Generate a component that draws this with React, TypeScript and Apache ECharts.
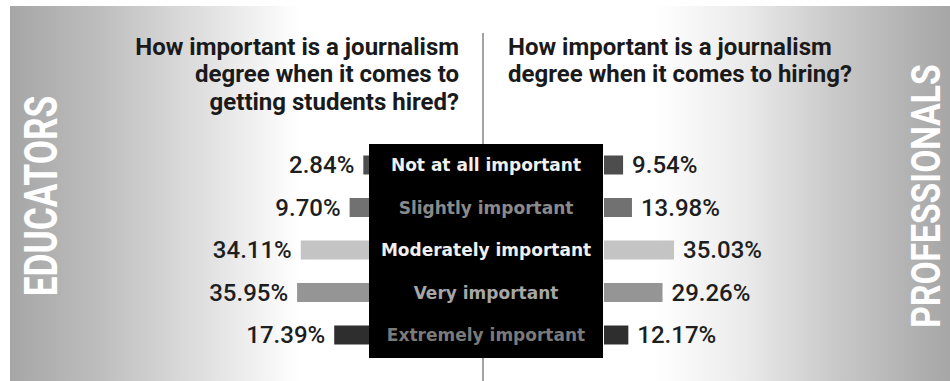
import React, { useEffect, useRef } from "react";
import * as echarts from "echarts";

const categories = [
  "Not at all important",
  "Slightly important",
  "Moderately important",
  "Very important",
  "Extremely important",
];
const educators = [2.84, 9.7, 34.11, 35.95, 17.39];
const professionals = [9.54, 13.98, 35.03, 29.26, 12.17];
const barColors = ["#4d4d4d", "#717171", "#c4c4c4", "#959595", "#2e2e2e"];
const categoryLabelColors = ["#f0f0f0", "#8a8a8a", "#f0f0f0", "#a6a6a6", "#7a7a7a"];
const leftTitle = [
  "How important is a journalism",
  "degree when it comes to",
  "getting students hired?",
];
const rightTitle = ["How important is a journalism", "degree when it comes to hiring?"];
const leftSide = "EDUCATORS";
const rightSide = "PROFESSIONALS";

export default function App() {
  const ref = useRef<HTMLDivElement>(null);
  useEffect(() => {
    if (!ref.current) return;
    const chart = echarts.init(ref.current, undefined, { renderer: "svg" });
    const gridTop = 143.75;
    const gridH = 212.5;
    const mk = (vals: number[]) =>
      vals.map((v, i) => ({ value: v, itemStyle: { color: barColors[i] } }));
    const pctFmt = (p: any) => Number(p.value).toFixed(2) + "%";
    const pctLabel = {
      show: true,
      formatter: pctFmt,
      fontFamily: "Roboto",
      fontWeight: 500,
      fontSize: 24,
      color: "#1e1e1e",
      distance: 9,
    };
    chart.setOption({
      animation: false,
      backgroundColor: "#ffffff",
      grid: [
        { left: 269, width: 100, top: gridTop, height: gridH },
        { left: 604, width: 100, top: gridTop, height: gridH },
      ],
      xAxis: [
        { gridIndex: 0, type: "value", min: 0, max: 50, inverse: true, show: false },
        { gridIndex: 1, type: "value", min: 0, max: 50, show: false },
      ],
      yAxis: [
        { gridIndex: 0, type: "category", data: categories, inverse: true, show: false },
        {
          gridIndex: 1,
          type: "category",
          data: categories,
          inverse: true,
          z: 20,
          axisLine: { show: false },
          axisTick: { show: false },
          splitLine: { show: false },
          axisLabel: {
            margin: 118,
            align: "center",
            fontFamily: "DejaVu Sans",
            fontWeight: "bold",
            fontSize: 17,
            color: (val: string) => categoryLabelColors[categories.indexOf(val)],
          },
        },
      ],
      series: [
        {
          type: "bar",
          xAxisIndex: 0,
          yAxisIndex: 0,
          barWidth: 19,
          data: mk(educators),
          label: { ...pctLabel, position: "left" },
        },
        {
          type: "bar",
          xAxisIndex: 1,
          yAxisIndex: 1,
          barWidth: 19,
          data: mk(professionals),
          label: { ...pctLabel, position: "right" },
        },
      ],
      graphic: [
        {
          type: "rect",
          z: -20,
          shape: { x: 10, y: 6, width: 290, height: 375 },
          style: {
            fill: new echarts.graphic.LinearGradient(0, 0, 1, 0, [
              { offset: 0, color: "#a6a6a6" },
              { offset: 0.3, color: "#bdbdbd" },
              { offset: 0.65, color: "#dedede" },
              { offset: 1, color: "#ffffff" },
            ]),
          },
        },
        {
          type: "rect",
          z: -20,
          shape: { x: 300, y: 6, width: 355, height: 375 },
          style: { fill: "#ffffff" },
        },
        {
          type: "rect",
          z: -20,
          shape: { x: 655, y: 6, width: 295, height: 375 },
          style: {
            fill: new echarts.graphic.LinearGradient(0, 0, 1, 0, [
              { offset: 0, color: "#ffffff" },
              { offset: 0.3, color: "#ebebeb" },
              { offset: 0.6, color: "#cacaca" },
              { offset: 0.8, color: "#b8b8b8" },
              { offset: 1, color: "#a6a6a6" },
            ]),
          },
        },
        {
          type: "line",
          z: -15,
          shape: { x1: 483, y1: 33, x2: 483, y2: 381 },
          style: { stroke: "#858585", lineWidth: 1.5 },
        },
        {
          type: "rect",
          z: -10,
          shape: { x: 369, y: 144, width: 234, height: 214 },
          style: { fill: "#000000" },
        },
        {
          type: "text",
          z: -5,
          x: 459,
          y: 33,
          style: {
            text: leftTitle.join("\n"),
            align: "right",
            verticalAlign: "top",
            font: "bold 24px Roboto",
            lineHeight: 27.5,
            fill: "#1a1a1a",
          },
        },
        {
          type: "text",
          z: -5,
          x: 508,
          y: 33,
          style: {
            text: rightTitle.join("\n"),
            align: "left",
            verticalAlign: "top",
            font: "bold 24px Roboto",
            lineHeight: 27.5,
            fill: "#1a1a1a",
          },
        },
        {
          type: "text",
          z: -5,
          x: 40.5,
          y: 196,
          rotation: Math.PI / 2,
          scaleX: 0.75,
          style: {
            text: leftSide,
            align: "center",
            verticalAlign: "middle",
            font: "bold 47px Roboto",
            fill: "#ffffff",
          },
        },
        {
          type: "text",
          z: -5,
          x: 926,
          y: 196,
          rotation: Math.PI / 2,
          scaleX: 0.84,
          style: {
            text: rightSide,
            align: "center",
            verticalAlign: "middle",
            font: "bold 40px Roboto",
            fill: "#ffffff",
          },
        },
      ],
    });
    return () => chart.dispose();
  }, []);
  return (
    <div
      ref={ref}
      style={{ position: "fixed", left: 0, top: 0, width: 950, height: 381 }}
    />
  );
}
